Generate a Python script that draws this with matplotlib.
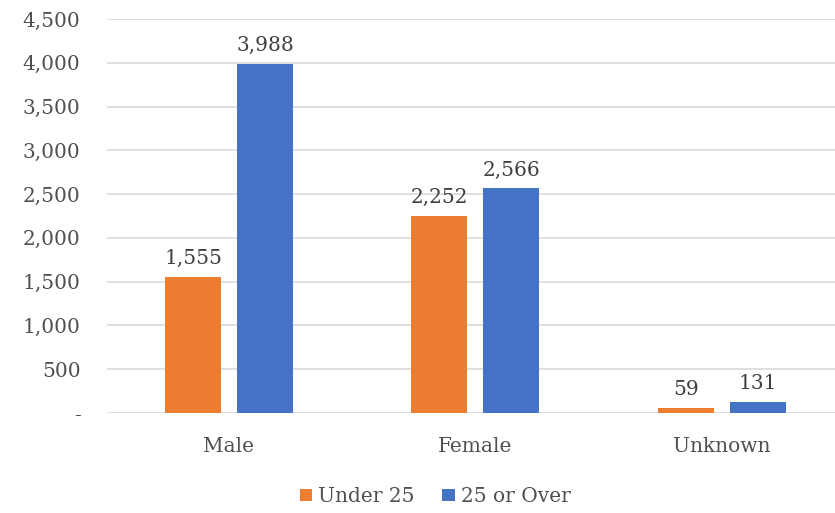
import matplotlib
matplotlib.use('Agg')
import matplotlib.pyplot as plt
import numpy as np

categories = ['Male', 'Female', 'Unknown']
under_25 = [1555, 2252, 59]
over_25 = [3988, 2566, 131]
series_names = ['Under 25', '25 or Over']
y_ticks = [0, 500, 1000, 1500, 2000, 2500, 3000, 3500, 4000, 4500]

ORANGE = '#ED7D31'
BLUE = '#4472C4'
TEXT = '#505050'

plt.rcParams['font.family'] = ['DejaVu Serif']

fig = plt.figure(figsize=(8.35, 5.13), dpi=100)
ax = fig.add_axes([107 / 835, 100 / 513, 728 / 835, 394 / 513])

x = np.arange(len(categories))
w = 0.227
off = 0.146
b1 = ax.bar(x - off, under_25, w, color=ORANGE, label=series_names[0], zorder=3)
b2 = ax.bar(x + off, over_25, w, color=BLUE, label=series_names[1], zorder=3)

# value labels above each bar
for bars in (b1, b2):
    for bar in bars:
        h = bar.get_height()
        ax.text(bar.get_x() + bar.get_width() / 2, h + 100, f'{h:,.0f}',
                ha='center', va='bottom', fontsize=14.5, color='#404040')

ax.set_xlim(-0.495, 2.46)
ax.set_ylim(0, 4500)
ax.set_yticks(y_ticks)
ax.set_yticklabels(['-' if v == 0 else f'{v:,}' for v in y_ticks])
ax.set_xticks(x)
ax.set_xticklabels(categories)
ax.tick_params(axis='both', length=0, labelsize=14.5, colors=TEXT)
ax.tick_params(axis='y', pad=19)
ax.tick_params(axis='x', pad=17)
ax.grid(axis='y', color='#d9d9d9', linewidth=1.2, zorder=0)
for s in ax.spines.values():
    s.set_visible(False)

fig.legend(loc='lower center', bbox_to_anchor=(0.521, -0.022), ncol=2, frameon=False,
           fontsize=14.5, handlelength=0.6, handleheight=0.6, handletextpad=0.3,
           columnspacing=1.4, labelcolor=TEXT)

fig.savefig('out.png', dpi=100)
